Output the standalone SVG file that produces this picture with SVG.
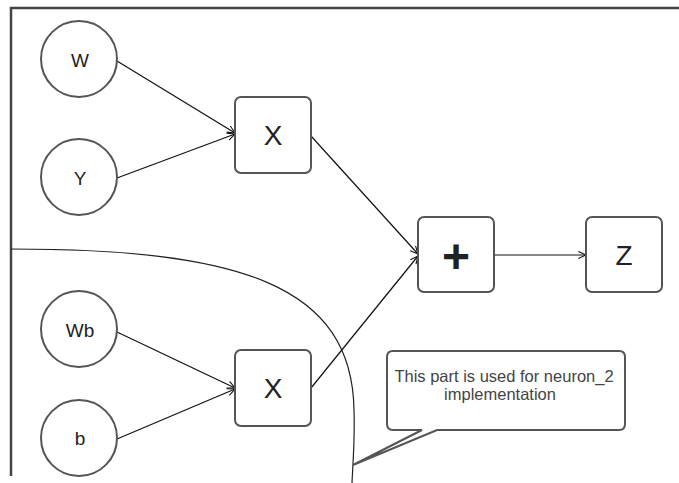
<svg xmlns="http://www.w3.org/2000/svg" width="679" height="483" viewBox="0 0 679 483">
<style>
.node{fill:#fff;stroke:#555;stroke-width:2}
.lbl{font-family:"Liberation Sans",Arial,sans-serif;fill:#222;text-anchor:middle}
.small{font-size:19px}
.big{font-size:28px}
.edge{fill:none;stroke:#111;stroke-width:1.2}
.frame{fill:none;stroke:#444;stroke-width:2.5}
</style>
<defs>
<marker id="arr" viewBox="0 0 10 10" refX="9.5" refY="5" markerWidth="9" markerHeight="9" markerUnits="userSpaceOnUse" orient="auto">
<path d="M1 1 L9.5 5 L1 9" fill="none" stroke="#111" stroke-width="1.2"/>
</marker>
</defs>
<rect width="679" height="483" fill="#fff"/>
<g id="frame">
<path class="frame" d="M11 476 L11 8 L679 8"/>
<path fill="none" stroke="#222" stroke-width="1.2" d="M11 249 C240 249 352 285 354 410 C355 440 353 460 352 483"/>
</g>
<g id="connectors">
<line class="edge" x1="117" y1="61" x2="235" y2="133" marker-end="url(#arr)"/>
<line class="edge" x1="117" y1="178" x2="235" y2="134" marker-end="url(#arr)"/>
<line class="edge" x1="117" y1="332" x2="235" y2="388" marker-end="url(#arr)"/>
<line class="edge" x1="117" y1="439" x2="235" y2="389" marker-end="url(#arr)"/>
<line class="edge" x1="311" y1="136" x2="418" y2="254" marker-end="url(#arr)"/>
<line class="edge" x1="311" y1="388" x2="418" y2="256" marker-end="url(#arr)"/>
<line class="edge" x1="494" y1="255" x2="586" y2="255" marker-end="url(#arr)"/>
</g>
<g id="W"><circle class="node" cx="79" cy="59" r="38"/><text class="lbl small" x="80" y="67">W</text></g>
<g id="Y"><circle class="node" cx="79" cy="177" r="38"/><text class="lbl small" x="80" y="185">Y</text></g>
<g id="Wb"><circle class="node" cx="79" cy="329" r="38"/><text class="lbl small" x="80" y="337">Wb</text></g>
<g id="b"><circle class="node" cx="79" cy="438" r="38"/><text class="lbl small" x="80" y="445">b</text></g>
<g id="mul1"><rect class="node" x="235" y="97" width="76" height="76" rx="6"/><text class="lbl big" x="273" y="145">X</text></g>
<g id="mul2"><rect class="node" x="235" y="350" width="76" height="76" rx="6"/><text class="lbl big" x="273" y="398">X</text></g>
<g id="add"><rect class="node" x="418" y="217" width="76" height="75" rx="6"/><text class="lbl" x="456" y="273" style="font-size:48px;font-weight:bold">+</text></g>
<g id="Z"><rect class="node" x="586" y="217" width="76" height="75" rx="6"/><text class="lbl big" x="624" y="265">Z</text></g>
<g id="note">
<path class="node" d="M393 351 L619 351 Q625 351 625 357 L625 424 Q625 430 619 430 L437 430 L353 465 L422 430 L393 430 Q387 430 387 424 L387 357 Q387 351 393 351 Z"/>
<text class="lbl" style="font-size:16.5px;fill:#444" x="504" y="382">This part is used for neuron_2</text>
<text class="lbl" style="font-size:16.5px;fill:#444" x="500" y="400">implementation</text>
</g>
</svg>
